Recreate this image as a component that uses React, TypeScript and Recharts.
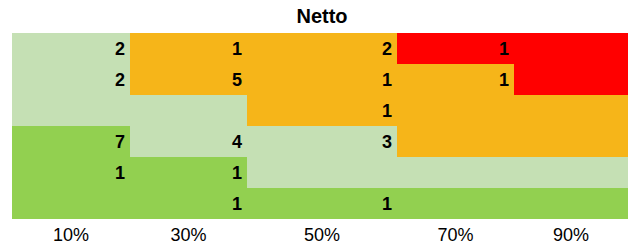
import React from 'react';
import { BarChart, Bar, XAxis, YAxis, Cell, LabelList } from 'recharts';

// Column bins (relative widths of each bin on the x axis)
const colWidths = [118, 117, 150, 117, 114];
const tickLabels = ['10%', '30%', '50%', '70%', '90%'];
const rowNames = ['r1', 'r2', 'r3', 'r4', 'r5', 'r6'];

// Counts per row (top to bottom) and column (left to right)
const counts1 = [2, 1, 2, 1, 0];
const counts2 = [2, 5, 1, 1, 0];
const counts3 = [0, 0, 1, 0, 0];
const counts4 = [7, 4, 3, 0, 0];
const counts5 = [1, 1, 0, 0, 0];
const counts6 = [0, 1, 1, 0, 0];

// Zone per cell: G = green, L = light green, O = orange, R = red
const zones1 = ['L', 'O', 'O', 'R', 'R'];
const zones2 = ['L', 'O', 'O', 'O', 'R'];
const zones3 = ['L', 'L', 'O', 'O', 'O'];
const zones4 = ['G', 'L', 'L', 'O', 'O'];
const zones5 = ['G', 'G', 'L', 'L', 'L'];
const zones6 = ['G', 'G', 'G', 'G', 'G'];

const zoneColors: Record<string, string> = {
  G: '#92D050',
  L: '#C5E0B4',
  O: '#F6B519',
  R: '#FF0000',
};

const allCounts = [counts1, counts2, counts3, counts4, counts5, counts6];
const allZones = [zones1, zones2, zones3, zones4, zones5, zones6];

const data = rowNames.map((name, r) => {
  const row: any = { name };
  colWidths.forEach((w, c) => {
    row[`w${c}`] = w;
    row[`n${c}`] = allCounts[r][c];
  });
  return row;
});

const total = colWidths.reduce((a, b) => a + b, 0);
const tickPositions = colWidths.map((w, i) => colWidths.slice(0, i).reduce((a, b) => a + b, 0) + w / 2);

export default function App() {
  const font = '"Liberation Sans", Arial, sans-serif';
  return (
    <div style={{ position: 'absolute', left: 0, top: 0, width: 628, height: 246, fontFamily: font }}>
      <div
        style={{
          position: 'absolute',
          left: 222,
          width: 200,
          top: 4,
          textAlign: 'center',
          fontWeight: 'bold',
          fontSize: 20,
          color: '#000',
          lineHeight: '24px',
        }}
      >
        Netto
      </div>
      <BarChart
        width={628}
        height={246}
        data={data}
        layout="vertical"
        margin={{ top: 33, right: 0, bottom: 0, left: 12 }}
        barCategoryGap={0}
        barGap={0}
        style={{ fontFamily: font }}
      >
        <XAxis
          type="number"
          domain={[0, total]}
          ticks={tickPositions}
          tickFormatter={(v: number) => tickLabels[tickPositions.indexOf(v)] ?? ''}
          axisLine={false}
          tickLine={false}
          tickMargin={3}
          height={27}
          tick={{ fill: '#000', fontSize: 18 }}
          interval={0}
        />
        <YAxis type="category" dataKey="name" hide />
        {colWidths.map((_, c) => (
          <Bar key={c} dataKey={`w${c}`} stackId="a" isAnimationActive={false}>
            {data.map((_, r) => (
              <Cell key={r} fill={zoneColors[allZones[r][c]]} />
            ))}
            <LabelList
              dataKey={`n${c}`}
              position="insideRight"
              offset={5}
              formatter={(v: any) => (v ? v : '')}
              style={{ fill: '#000', fontWeight: 'bold', fontSize: 18, fontFamily: font }}
            />
          </Bar>
        ))}
      </BarChart>
    </div>
  );
}
